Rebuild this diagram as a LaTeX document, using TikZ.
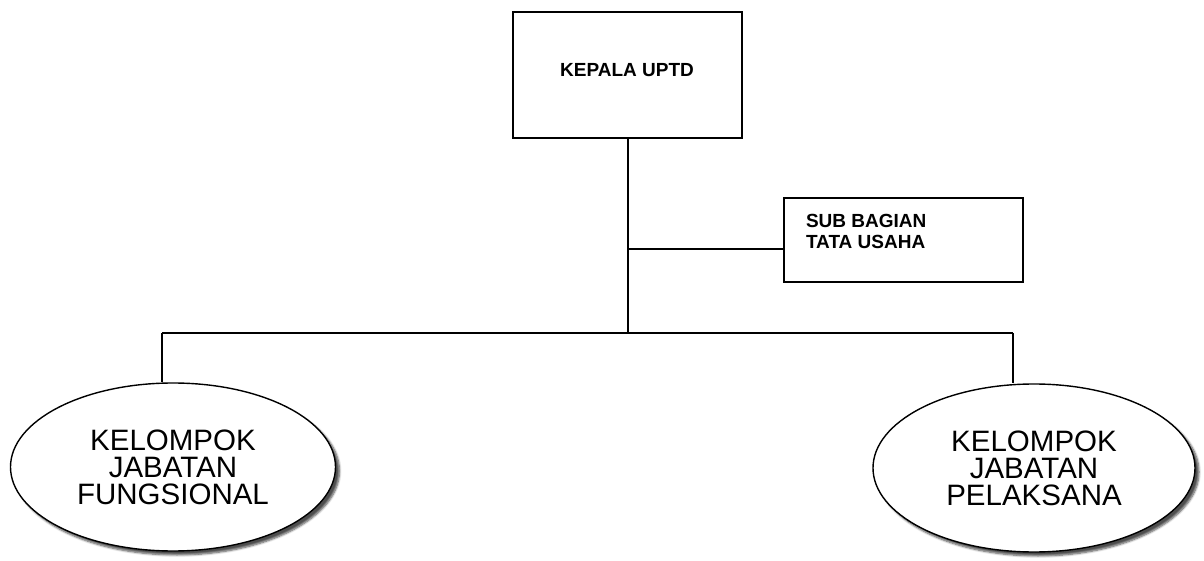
\documentclass[tikz,border=0pt]{standalone}
\usepackage{fontspec}
\setmainfont{Liberation Sans}
\usetikzlibrary{shapes.geometric,shadows.blur}

\begin{document}
\begin{tikzpicture}[x=1pt,y=1pt,
  line width=2pt,
  kotak/.style={draw,rectangle,fill=white,inner sep=0pt},
  elips/.style={draw,ellipse,fill=white,inner sep=0pt,line width=1.4pt,
    minimum width=325pt,minimum height=168pt,align=center,
    font=\fontsize{29.5}{27}\selectfont,
    blur shadow={shadow xshift=4pt,shadow yshift=-4pt,shadow blur steps=6,shadow opacity=70}},
  judul/.style={font=\bfseries\fontsize{19}{21}\selectfont,inner sep=0pt}]
\useasboundingbox (0,0) rectangle (1204,560);
% kotak atas
\node[kotak,minimum width=229pt,minimum height=126pt] (kepala) at (627.5,485) {};
\node[judul] (kepalatext) at (627,490) {KEPALA UPTD};
\node[kotak,minimum width=239pt,minimum height=84pt] (tu) at (903.5,320) {};
\node[judul,anchor=north west,align=left] (tutext) at (805,347) {SUB BAGIAN\\TATA USAHA};
% elips bawah
\node[elips] (fungsional) at (173,93) {KELOMPOK\\JABATAN\\FUNGSIONAL};
\node[elips,minimum width=322pt] (pelaksana) at (1034,92) {KELOMPOK\\JABATAN\\PELAKSANA};
% garis
\coordinate (tengah) at (627.5,227);
\coordinate (cabang) at (627.5,311);
\coordinate (kiri) at (162,227);
\coordinate (kanan) at (1013,227);
\draw (kepala.south) -- (tengah);
\draw (cabang) -- (cabang -| tu.west);
\draw (kiri) -- (kanan);
\draw (kiri) -- (kiri |- fungsional.north);
\draw (kanan) -- (kanan |- pelaksana.north);
\end{tikzpicture}
\end{document}
